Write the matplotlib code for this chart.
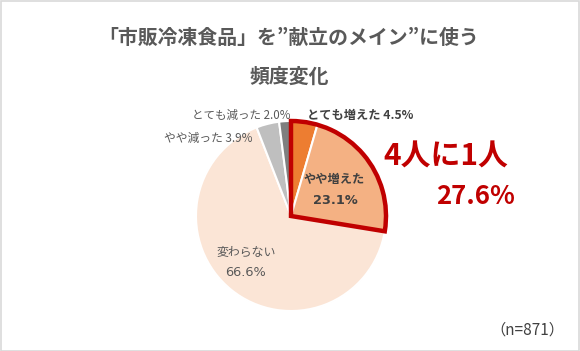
import matplotlib.pyplot as plt
from matplotlib.patches import Wedge, Rectangle

plt.rcParams['font.family'] = ['Noto Sans CJK JP', 'DejaVu Sans']

# data (clockwise from 12 o'clock)
labels = ["とても増えた", "やや増えた", "変わらない", "やや減った", "とても減った"]
values = [4.5, 23.1, 66.6, 3.9, 2.0]
colors = ["#ED7D31", "#F4B183", "#FBE5D6", "#BFBFBF", "#7F7F7F"]
explode = [0, 0, 0, 0.03, 0.03]
title = "「市販冷凍食品」を”献立のメイン”に使う\n頻度変化"
n_total = 871

W, H = 580, 351
cx, cy, r = 291, H - 216, 95
num_font = ['DejaVu Sans', 'Noto Sans CJK JP']


def main():
    fig = plt.figure(figsize=(W / 100, H / 100), dpi=100)
    ax = fig.add_axes([0, 0, 1, 1])
    ax.pie(values, colors=colors, explode=explode, startangle=90,
           counterclock=False, center=(cx, cy), radius=r,
           wedgeprops=dict(edgecolor="white", linewidth=1.5))
    ax.set_xlim(0, W)
    ax.set_ylim(0, H)
    ax.set_aspect('equal')
    ax.axis('off')

    # red outline around the "increased" slices
    up = values[0] + values[1]
    theta1 = 90 - up / sum(values) * 360
    ax.add_patch(Wedge((cx, cy), r, theta1, 90, fill=False,
                       edgecolor="#C00000", linewidth=3.2, zorder=5))

    ax.text(289, H - 57, title, ha='center', va='center', fontsize=14.3,
            fontweight='bold', color="#595959", linespacing=2.05)

    ax.text(307, H - 115, f"{labels[0]} {values[0]}%", ha='left', va='center',
            fontsize=8.8, fontweight='bold', color="#404040")
    # two-line labels inside the pie
    ax.text(334, H - 180, labels[1], ha='center', va='center',
            fontsize=8.8, fontweight='bold', color="#404040")
    ax.text(335, H - 200, f"{values[1]}%", ha='center', va='center',
            fontsize=9.3, fontweight='bold', color="#404040", family=num_font)
    ax.text(246, H - 252, labels[2], ha='center', va='center',
            fontsize=8.6, color="#595959")
    ax.text(246, H - 272, f"{values[2]}%", ha='center', va='center',
            fontsize=9.3, color="#595959", family=num_font)

    ax.text(253, H - 138, f"{labels[3]} {values[3]}%", ha='right', va='center',
            fontsize=8.5, color="#595959")
    ax.text(290, H - 115, f"{labels[4]} {values[4]}%", ha='right', va='center',
            fontsize=8.3, color="#595959")

    ax.text(446, H - 157, "4人に1人", ha='center', va='center', fontsize=21.5,
            fontweight='bold', color="#C00000")
    ax.text(515, H - 197, f"{up:.1f}%", ha='right', va='center', fontsize=18.5,
            fontweight='bold', color="#C00000")

    ax.text(564, H - 330, f"（n={n_total}）", ha='right', va='center',
            fontsize=11, color="#404040")

    fig.add_artist(Rectangle((0.5 / W, 0.5 / H), 1 - 1.5 / W, 1 - 1.5 / H,
                             transform=fig.transFigure, fill=False,
                             edgecolor="#D9D9D9", linewidth=1.2))
    fig.savefig("out.png", dpi=100)


if __name__ == "__main__":
    main()
